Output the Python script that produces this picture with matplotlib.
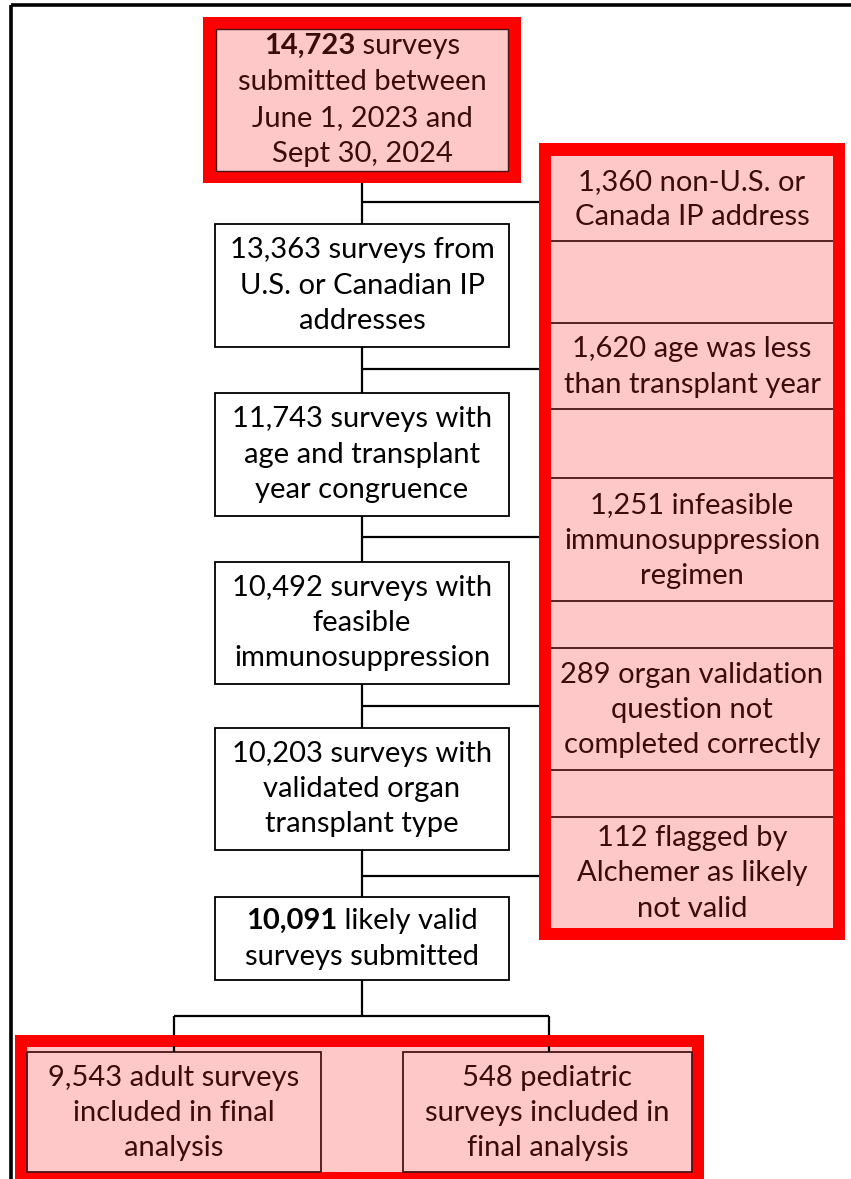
import matplotlib
matplotlib.use("Agg")
import matplotlib.pyplot as plt
from matplotlib.patches import Rectangle

# ── chart text ────────────────────────────────────────────────────────────────
top_bold = "14,723"
top_rest = ["surveys", "submitted between", "June 1, 2023 and", "Sept 30, 2024"]

main_steps = [
    "13,363 surveys from\nU.S. or Canadian IP\naddresses",
    "11,743 surveys with\nage and transplant\nyear congruence",
    "10,492 surveys with\nfeasible\nimmunosuppression",
    "10,203 surveys with\nvalidated organ\ntransplant type",
]
valid_bold = "10,091"
valid_rest = ["likely valid", "surveys submitted"]

exclusions = [
    "1,360 non-U.S. or\nCanada IP address",
    "1,620 age was less\nthan transplant year",
    "1,251 infeasible\nimmunosuppression\nregimen",
    "289 organ validation\nquestion not\ncompleted correctly",
    "112 flagged by\nAlchemer as likely\nnot valid",
]

final_groups = [
    "9,543 adult surveys\nincluded in final\nanalysis",
    "548 pediatric\nsurveys included in\nfinal analysis",
]

# ── style ─────────────────────────────────────────────────────────────────────
FONT = "Lato"
FS = 21
RED = "#ff0000"
PINK = "#ffc8c8"
DARK = "#4a1414"
PINK_TXT = "#3a0c0c"
LS = 1.45

W, H = 851, 1179
fig = plt.figure(figsize=(W / 100, H / 100), dpi=100)
ax = fig.add_axes([0, 0, 1, 1])
ax.set_xlim(0, W)
ax.set_ylim(H, 0)
ax.axis("off")


def rect(x0, y0, x1, y1, fc, ec="none", lw=0, z=2):
    ax.add_patch(Rectangle((x0, y0), x1 - x0, y1 - y0, facecolor=fc,
                           edgecolor=ec, linewidth=lw, zorder=z))


def line(xs, ys, lw=1.6, color="black", z=1):
    ax.plot(xs, ys, color=color, lw=lw, zorder=z, solid_capstyle="butt")


def label(x, y, s, color="black"):
    ax.text(x, y, s, ha="center", va="center", fontsize=FS, family=FONT,
            color=color, linespacing=LS, zorder=5)


def mixed_line(cx, y, bold, rest, color):
    """one centred line with a bold number followed by normal text"""
    r = fig.canvas.get_renderer()
    t1 = ax.text(0, y, bold, ha="left", va="center", fontsize=FS, family=FONT,
                 weight="bold", color=color, zorder=5)
    t2 = ax.text(0, y, " " + rest, ha="left", va="center", fontsize=FS,
                 family=FONT, color=color, zorder=5)
    inv = ax.transData.inverted()
    def width(t):
        bb = t.get_window_extent(r)
        return inv.transform((bb.x1, 0))[0] - inv.transform((bb.x0, 0))[0]
    w1, w2 = width(t1), width(t2)
    x0 = cx - (w1 + w2) / 2
    t1.set_x(x0)
    t2.set_x(x0 + w1)


# outer page frame (top and left only)
line([11, W], [5, 5], lw=2.6, z=0)
line([11, 11], [5, H], lw=2.6, z=0)

CX = 362
# spine of the flow
line([CX, CX], [183, 897])
line([CX, CX], [980, 1016])

# top box
rect(203, 17, 521, 183, RED, z=2)
rect(216, 29, 508, 171, PINK, ec=DARK, lw=1.0, z=3)
line_pitch = 36
top_y = [100 + (i - 1.5) * line_pitch for i in range(4)]
mixed_line(CX, top_y[0], top_bold, top_rest[0], PINK_TXT)
for yy, s in zip(top_y[1:], top_rest[1:]):
    label(CX, yy, s, PINK_TXT)

# main step boxes
step_boxes = [(224, 347), (393, 516), (562, 684), (728, 850)]
for (y0, y1), s in zip(step_boxes, main_steps):
    rect(215, y0, 509, y1, "white", ec="black", lw=1.3, z=3)
    label(CX, (y0 + y1) / 2, s)

# likely valid box
rect(215, 897, 509, 980, "white", ec="black", lw=1.3, z=3)
mixed_line(CX, 921, valid_bold, valid_rest[0], "black")
label(CX, 957, valid_rest[1])

# exclusions column
rect(539, 143, 845, 940, RED, z=2)
rect(551, 156, 833, 928, PINK, z=3)
cells = [(156, 241), (323, 409), (478, 601), (648, 770), (817, 928)]
for yy in [241, 323, 409, 478, 601, 648, 770, 817]:
    line([551, 833], [yy, yy], lw=1.3, color=DARK, z=4)
for (y0, y1), s in zip(cells, exclusions):
    label(692, (y0 + y1) / 2 + 1, s, PINK_TXT)

# branches to exclusions
for yy in [202, 369, 537, 706, 876]:
    line([CX, 539], [yy, yy])

# split into final groups
line([174, 549], [1016, 1016])
for xx in [174, 549]:
    line([xx, xx], [1016, 1036])
    line([xx, xx], [1046, 1052], z=4)

rect(15, 1035, 704, H + 5, RED, z=2)
rect(27, 1047, 692, 1172, PINK, z=3)
final_boxes = [(27, 321), (403, 692)]
for (x0, x1), s in zip(final_boxes, final_groups):
    rect(x0, 1052, x1, 1172, PINK, ec=DARK, lw=1.3, z=3)
    label((x0 + x1) / 2, 1113, s, PINK_TXT)

fig.savefig("out.png", dpi=100)
